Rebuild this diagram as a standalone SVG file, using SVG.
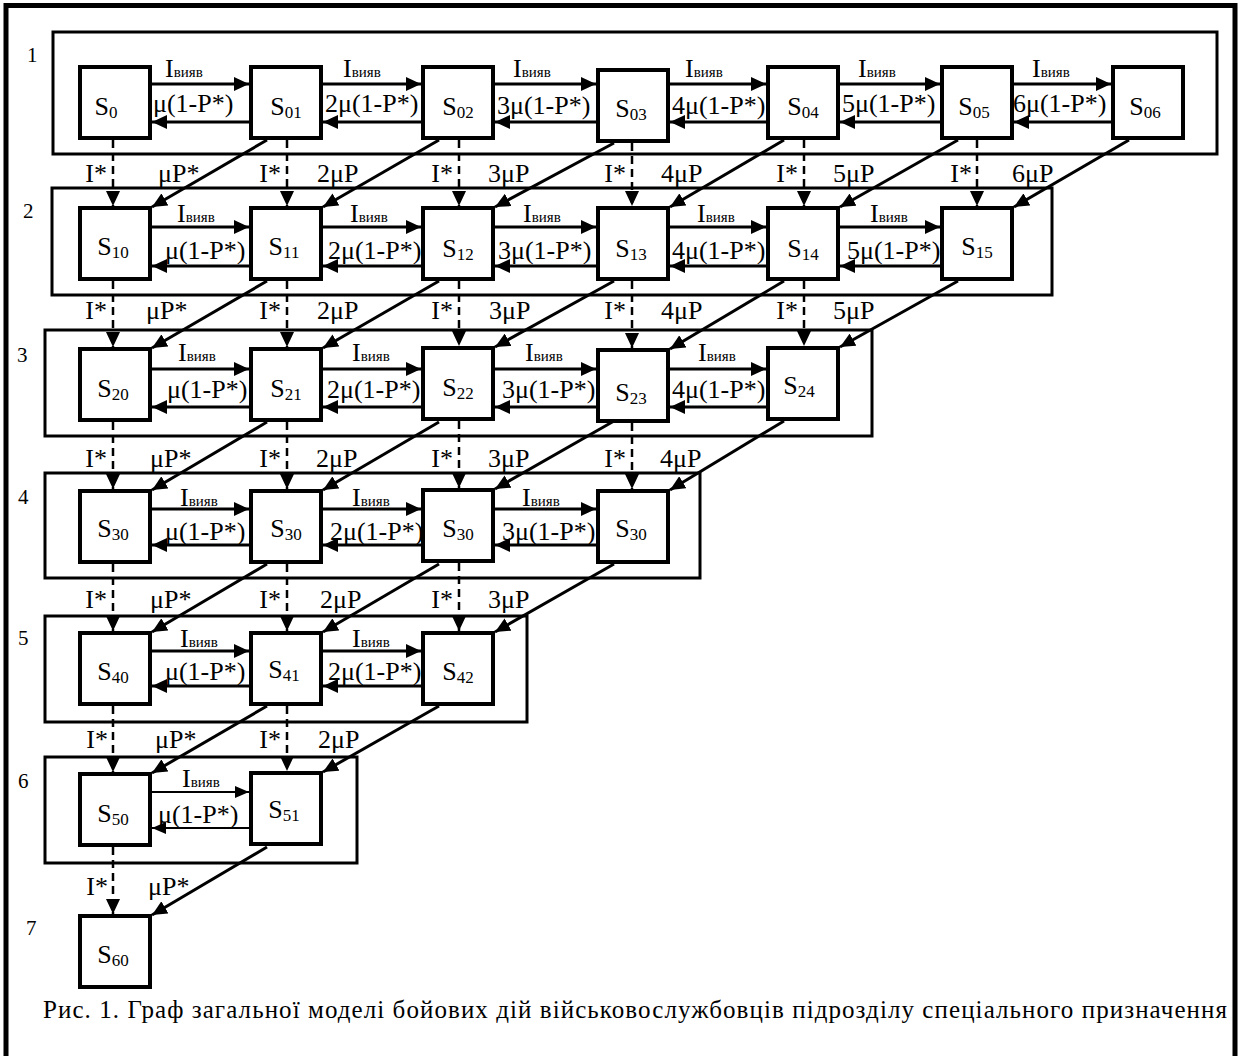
<svg xmlns="http://www.w3.org/2000/svg" width="1239" height="1056" viewBox="0 0 1239 1056">
<defs>
<style>
text{font-family:"Liberation Serif","Times New Roman",serif;fill:#000}
.frame{fill:#fff;stroke:#000;stroke-width:5}
.grp{fill:none;stroke:#000;stroke-width:3}
.node rect{fill:#fff;stroke:#000;stroke-width:4}
.s{font-size:26px}
.sub{font-size:17px}
.lbl{font-size:26px}
.vs{font-size:15px}
.num{font-size:21px}
.cap{font-size:25px}
.arr{stroke:#000;stroke-width:3;fill:none;marker-end:url(#ah)}
.thin{stroke:#000;stroke-width:2;fill:none;marker-end:url(#ahs)}
.dash{stroke:#000;stroke-width:2.5;stroke-dasharray:8 5;fill:none;marker-end:url(#ah)}
</style>
<marker id="ah" markerUnits="userSpaceOnUse" markerWidth="16" markerHeight="14" refX="15" refY="7" orient="auto"><path d="M0,0 L15,7 L0,14 z" fill="#000"/></marker>
<marker id="ahs" markerUnits="userSpaceOnUse" markerWidth="15" markerHeight="12" refX="14" refY="6" orient="auto"><path d="M0,0 L14,6 L0,12 z" fill="#000"/></marker>
</defs>
<rect class="frame" x="6" y="5.5" width="1229" height="1062"/>
<g id="row-boxes">
<rect class="grp" x="53" y="32" width="1164" height="122"/>
<rect class="grp" x="52" y="188" width="1000" height="107"/>
<rect class="grp" x="45" y="330" width="827" height="106"/>
<rect class="grp" x="45" y="473" width="655" height="105"/>
<rect class="grp" x="45" y="616" width="482" height="106"/>
<rect class="grp" x="45" y="757" width="312" height="106"/>
</g>
<g id="row-numbers">
<text class="num" x="27" y="62">1</text>
<text class="num" x="23" y="218">2</text>
<text class="num" x="17" y="362">3</text>
<text class="num" x="18" y="504">4</text>
<text class="num" x="18" y="645">5</text>
<text class="num" x="18" y="788">6</text>
<text class="num" x="26" y="935">7</text>
</g>
<g id="nodes">
<g id="S0" class="node"><rect x="80" y="67" width="70" height="71"/><text class="s" x="106" y="115" text-anchor="middle">S<tspan class="sub" dy="3">0</tspan></text></g>
<g id="S01" class="node"><rect x="251" y="67" width="70" height="71"/><text class="s" x="286" y="115" text-anchor="middle">S<tspan class="sub" dy="3">01</tspan></text></g>
<g id="S02" class="node"><rect x="423" y="67" width="70" height="71"/><text class="s" x="458" y="115" text-anchor="middle">S<tspan class="sub" dy="3">02</tspan></text></g>
<g id="S03" class="node"><rect x="598" y="70" width="70" height="71"/><text class="s" x="631" y="117" text-anchor="middle">S<tspan class="sub" dy="3">03</tspan></text></g>
<g id="S04" class="node"><rect x="768" y="67" width="70" height="71"/><text class="s" x="803" y="115" text-anchor="middle">S<tspan class="sub" dy="3">04</tspan></text></g>
<g id="S05" class="node"><rect x="942" y="67" width="70" height="71"/><text class="s" x="974" y="115" text-anchor="middle">S<tspan class="sub" dy="3">05</tspan></text></g>
<g id="S06" class="node"><rect x="1113" y="67" width="70" height="71"/><text class="s" x="1145" y="115" text-anchor="middle">S<tspan class="sub" dy="3">06</tspan></text></g>

<g id="S10" class="node"><rect x="80" y="208" width="70" height="71"/><text class="s" x="113" y="255" text-anchor="middle">S<tspan class="sub" dy="3">10</tspan></text></g>
<g id="S11" class="node"><rect x="251" y="208" width="70" height="71"/><text class="s" x="284" y="255" text-anchor="middle">S<tspan class="sub" dy="3">11</tspan></text></g>
<g id="S12" class="node"><rect x="423" y="208" width="70" height="71"/><text class="s" x="458" y="257" text-anchor="middle">S<tspan class="sub" dy="3">12</tspan></text></g>
<g id="S13" class="node"><rect x="598" y="208" width="70" height="71"/><text class="s" x="631" y="257" text-anchor="middle">S<tspan class="sub" dy="3">13</tspan></text></g>
<g id="S14" class="node"><rect x="768" y="208" width="70" height="71"/><text class="s" x="803" y="257" text-anchor="middle">S<tspan class="sub" dy="3">14</tspan></text></g>
<g id="S15" class="node"><rect x="942" y="208" width="70" height="71"/><text class="s" x="977" y="255" text-anchor="middle">S<tspan class="sub" dy="3">15</tspan></text></g>

<g id="S20" class="node"><rect x="80" y="349" width="70" height="71"/><text class="s" x="113" y="397" text-anchor="middle">S<tspan class="sub" dy="3">20</tspan></text></g>
<g id="S21" class="node"><rect x="251" y="349" width="70" height="71"/><text class="s" x="286" y="397" text-anchor="middle">S<tspan class="sub" dy="3">21</tspan></text></g>
<g id="S22" class="node"><rect x="423" y="348" width="70" height="71"/><text class="s" x="458" y="396" text-anchor="middle">S<tspan class="sub" dy="3">22</tspan></text></g>
<g id="S23" class="node"><rect x="598" y="350" width="70" height="71"/><text class="s" x="631" y="401" text-anchor="middle">S<tspan class="sub" dy="3">23</tspan></text></g>
<g id="S24" class="node"><rect x="768" y="348" width="70" height="71"/><text class="s" x="799" y="394" text-anchor="middle">S<tspan class="sub" dy="3">24</tspan></text></g>

<g id="S30a" class="node"><rect x="80" y="491" width="70" height="71"/><text class="s" x="113" y="537" text-anchor="middle">S<tspan class="sub" dy="3">30</tspan></text></g>
<g id="S30b" class="node"><rect x="251" y="491" width="70" height="71"/><text class="s" x="286" y="537" text-anchor="middle">S<tspan class="sub" dy="3">30</tspan></text></g>
<g id="S30c" class="node"><rect x="423" y="490" width="70" height="71"/><text class="s" x="458" y="537" text-anchor="middle">S<tspan class="sub" dy="3">30</tspan></text></g>
<g id="S30d" class="node"><rect x="598" y="491" width="70" height="71"/><text class="s" x="631" y="537" text-anchor="middle">S<tspan class="sub" dy="3">30</tspan></text></g>

<g id="S40" class="node"><rect x="80" y="633" width="70" height="71"/><text class="s" x="113" y="680" text-anchor="middle">S<tspan class="sub" dy="3">40</tspan></text></g>
<g id="S41" class="node"><rect x="251" y="633" width="70" height="71"/><text class="s" x="284" y="678" text-anchor="middle">S<tspan class="sub" dy="3">41</tspan></text></g>
<g id="S42" class="node"><rect x="423" y="633" width="70" height="71"/><text class="s" x="458" y="680" text-anchor="middle">S<tspan class="sub" dy="3">42</tspan></text></g>

<g id="S50" class="node"><rect x="80" y="774" width="70" height="71"/><text class="s" x="113" y="822" text-anchor="middle">S<tspan class="sub" dy="3">50</tspan></text></g>
<g id="S51" class="node"><rect x="251" y="773" width="70" height="71"/><text class="s" x="284" y="818" text-anchor="middle">S<tspan class="sub" dy="3">51</tspan></text></g>

<g id="S60" class="node"><rect x="80" y="916" width="70" height="71"/><text class="s" x="113" y="963" text-anchor="middle">S<tspan class="sub" dy="3">60</tspan></text></g>
</g>
<g id="connectors">
<!-- row 1 horizontal -->
<line class="arr" x1="152" y1="84" x2="249" y2="84"/><line class="arr" x1="249" y1="122" x2="152" y2="122"/>
<line class="arr" x1="323" y1="84" x2="421" y2="84"/><line class="arr" x1="421" y1="122" x2="323" y2="122"/>
<line class="arr" x1="495" y1="84" x2="596" y2="84"/><line class="arr" x1="596" y1="122" x2="495" y2="122"/>
<line class="arr" x1="670" y1="84" x2="766" y2="84"/><line class="arr" x1="766" y1="122" x2="670" y2="122"/>
<line class="arr" x1="840" y1="84" x2="940" y2="84"/><line class="arr" x1="940" y1="122" x2="840" y2="122"/>
<line class="arr" x1="1014" y1="84" x2="1111" y2="84"/><line class="arr" x1="1111" y1="122" x2="1014" y2="122"/>
<!-- row 2 horizontal -->
<line class="arr" x1="152" y1="227" x2="249" y2="227"/><line class="arr" x1="249" y1="266" x2="152" y2="266"/>
<line class="arr" x1="323" y1="227" x2="421" y2="227"/><line class="arr" x1="421" y1="266" x2="323" y2="266"/>
<line class="arr" x1="495" y1="227" x2="596" y2="227"/><line class="arr" x1="596" y1="266" x2="495" y2="266"/>
<line class="arr" x1="670" y1="227" x2="766" y2="227"/><line class="arr" x1="766" y1="266" x2="670" y2="266"/>
<line class="arr" x1="840" y1="227" x2="940" y2="227"/><line class="arr" x1="940" y1="266" x2="840" y2="266"/>
<!-- row 3 horizontal -->
<line class="arr" x1="152" y1="369" x2="249" y2="369"/><line class="arr" x1="249" y1="407" x2="152" y2="407"/>
<line class="arr" x1="323" y1="369" x2="421" y2="369"/><line class="arr" x1="421" y1="407" x2="323" y2="407"/>
<line class="arr" x1="495" y1="369" x2="596" y2="369"/><line class="arr" x1="596" y1="407" x2="495" y2="407"/>
<line class="arr" x1="670" y1="369" x2="766" y2="369"/><line class="arr" x1="766" y1="407" x2="670" y2="407"/>
<!-- row 4 horizontal -->
<line class="arr" x1="152" y1="509" x2="249" y2="509"/><line class="arr" x1="249" y1="545" x2="152" y2="545"/>
<line class="arr" x1="323" y1="509" x2="421" y2="509"/><line class="arr" x1="421" y1="545" x2="323" y2="545"/>
<line class="arr" x1="495" y1="509" x2="596" y2="509"/><line class="arr" x1="596" y1="545" x2="495" y2="545"/>
<!-- row 5 horizontal -->
<line class="arr" x1="152" y1="651" x2="249" y2="651"/><line class="arr" x1="249" y1="686" x2="152" y2="686"/>
<line class="arr" x1="323" y1="651" x2="421" y2="651"/><line class="arr" x1="421" y1="686" x2="323" y2="686"/>
<!-- row 6 horizontal -->
<line class="thin" x1="152" y1="792" x2="249" y2="792"/><line class="thin" x1="249" y1="828" x2="152" y2="828"/>

<!-- vertical dashed -->
<line class="dash" x1="113" y1="140" x2="113" y2="206"/>
<line class="dash" x1="287" y1="140" x2="287" y2="206"/>
<line class="dash" x1="459" y1="140" x2="459" y2="206"/>
<line class="dash" x1="632" y1="143" x2="632" y2="206"/>
<line class="dash" x1="804" y1="140" x2="804" y2="206"/>
<line class="dash" x1="977" y1="140" x2="977" y2="206"/>
<line class="dash" x1="113" y1="281" x2="113" y2="347"/>
<line class="dash" x1="287" y1="281" x2="287" y2="347"/>
<line class="dash" x1="459" y1="281" x2="459" y2="346"/>
<line class="dash" x1="632" y1="281" x2="632" y2="348"/>
<line class="dash" x1="804" y1="281" x2="804" y2="346"/>
<line class="dash" x1="113" y1="422" x2="113" y2="489"/>
<line class="dash" x1="287" y1="422" x2="287" y2="489"/>
<line class="dash" x1="459" y1="421" x2="459" y2="488"/>
<line class="dash" x1="632" y1="423" x2="632" y2="489"/>
<line class="dash" x1="113" y1="564" x2="113" y2="631"/>
<line class="dash" x1="287" y1="564" x2="287" y2="631"/>
<line class="dash" x1="459" y1="563" x2="459" y2="631"/>
<line class="dash" x1="113" y1="706" x2="113" y2="772"/>
<line class="dash" x1="287" y1="706" x2="287" y2="771"/>
<line class="dash" x1="113" y1="847" x2="113" y2="914"/>

<!-- diagonals -->
<line class="arr" x1="267" y1="140" x2="152" y2="207"/>
<line class="arr" x1="439" y1="140" x2="323" y2="207"/>
<line class="arr" x1="614" y1="143" x2="495" y2="207"/>
<line class="arr" x1="784" y1="140" x2="670" y2="207"/>
<line class="arr" x1="958" y1="140" x2="840" y2="207"/>
<line class="arr" x1="1129" y1="140" x2="1014" y2="207"/>
<line class="arr" x1="267" y1="281" x2="152" y2="348"/>
<line class="arr" x1="439" y1="281" x2="323" y2="348"/>
<line class="arr" x1="614" y1="281" x2="495" y2="347"/>
<line class="arr" x1="784" y1="281" x2="670" y2="349"/>
<line class="arr" x1="958" y1="281" x2="840" y2="347"/>
<line class="arr" x1="267" y1="422" x2="152" y2="490"/>
<line class="arr" x1="439" y1="422" x2="323" y2="490"/>
<line class="arr" x1="614" y1="421" x2="495" y2="489"/>
<line class="arr" x1="784" y1="421" x2="670" y2="490"/>
<line class="arr" x1="267" y1="564" x2="152" y2="632"/>
<line class="arr" x1="439" y1="564" x2="323" y2="632"/>
<line class="arr" x1="614" y1="564" x2="495" y2="632"/>
<line class="arr" x1="267" y1="706" x2="152" y2="773"/>
<line class="arr" x1="439" y1="706" x2="323" y2="772"/>
<line class="arr" x1="267" y1="847" x2="152" y2="915"/>

<g class="lbl">
<!-- row 1 -->
<text x="165" y="77">I<tspan class="vs">вияв</tspan></text>
<text x="343" y="77">I<tspan class="vs">вияв</tspan></text>
<text x="513" y="77">I<tspan class="vs">вияв</tspan></text>
<text x="685" y="77">I<tspan class="vs">вияв</tspan></text>
<text x="858" y="77">I<tspan class="vs">вияв</tspan></text>
<text x="1032" y="77">I<tspan class="vs">вияв</tspan></text>
<text x="153" y="112">μ(1-P*)</text>
<text x="325" y="112">2μ(1-P*)</text>
<text x="497" y="114">3μ(1-P*)</text>
<text x="672" y="114">4μ(1-P*)</text>
<text x="842" y="112">5μ(1-P*)</text>
<text x="1013" y="112">6μ(1-P*)</text>
<!-- row 2 -->
<text x="177" y="222">I<tspan class="vs">вияв</tspan></text>
<text x="350" y="222">I<tspan class="vs">вияв</tspan></text>
<text x="523" y="222">I<tspan class="vs">вияв</tspan></text>
<text x="697" y="222">I<tspan class="vs">вияв</tspan></text>
<text x="870" y="222">I<tspan class="vs">вияв</tspan></text>
<text x="165" y="259">μ(1-P*)</text>
<text x="328" y="259">2μ(1-P*)</text>
<text x="498" y="259">3μ(1-P*)</text>
<text x="672" y="259">4μ(1-P*)</text>
<text x="847" y="259">5μ(1-P*)</text>
<!-- row 3 -->
<text x="178" y="361">I<tspan class="vs">вияв</tspan></text>
<text x="352" y="361">I<tspan class="vs">вияв</tspan></text>
<text x="525" y="361">I<tspan class="vs">вияв</tspan></text>
<text x="698" y="361">I<tspan class="vs">вияв</tspan></text>
<text x="167" y="398">μ(1-P*)</text>
<text x="327" y="398">2μ(1-P*)</text>
<text x="502" y="398">3μ(1-P*)</text>
<text x="672" y="398">4μ(1-P*)</text>
<!-- row 4 -->
<text x="180" y="506">I<tspan class="vs">вияв</tspan></text>
<text x="352" y="506">I<tspan class="vs">вияв</tspan></text>
<text x="522" y="506">I<tspan class="vs">вияв</tspan></text>
<text x="165" y="540">μ(1-P*)</text>
<text x="330" y="540">2μ(1-P*)</text>
<text x="502" y="540">3μ(1-P*)</text>
<!-- row 5 -->
<text x="180" y="647">I<tspan class="vs">вияв</tspan></text>
<text x="352" y="647">I<tspan class="vs">вияв</tspan></text>
<text x="165" y="680">μ(1-P*)</text>
<text x="328" y="680">2μ(1-P*)</text>
<!-- row 6 -->
<text x="182" y="787">I<tspan class="vs">вияв</tspan></text>
<text x="158" y="823">μ(1-P*)</text>

<!-- vertical / diagonal labels -->
<text x="107" y="182" text-anchor="end">I*</text>
<text x="281" y="182" text-anchor="end">I*</text>
<text x="453" y="182" text-anchor="end">I*</text>
<text x="626" y="182" text-anchor="end">I*</text>
<text x="798" y="182" text-anchor="end">I*</text>
<text x="972" y="182" text-anchor="end">I*</text>
<text x="158" y="182">μP*</text>
<text x="317" y="182">2μP</text>
<text x="488" y="182">3μP</text>
<text x="661" y="182">4μP</text>
<text x="833" y="182">5μP</text>
<text x="1012" y="182">6μP</text>

<text x="107" y="319" text-anchor="end">I*</text>
<text x="281" y="319" text-anchor="end">I*</text>
<text x="453" y="319" text-anchor="end">I*</text>
<text x="626" y="319" text-anchor="end">I*</text>
<text x="798" y="319" text-anchor="end">I*</text>
<text x="146" y="319">μP*</text>
<text x="317" y="319">2μP</text>
<text x="489" y="319">3μP</text>
<text x="661" y="319">4μP</text>
<text x="833" y="319">5μP</text>

<text x="107" y="467" text-anchor="end">I*</text>
<text x="281" y="467" text-anchor="end">I*</text>
<text x="453" y="467" text-anchor="end">I*</text>
<text x="626" y="467" text-anchor="end">I*</text>
<text x="150" y="467">μP*</text>
<text x="316" y="467">2μP</text>
<text x="488" y="467">3μP</text>
<text x="660" y="467">4μP</text>

<text x="107" y="608" text-anchor="end">I*</text>
<text x="281" y="608" text-anchor="end">I*</text>
<text x="453" y="608" text-anchor="end">I*</text>
<text x="150" y="608">μP*</text>
<text x="320" y="608">2μP</text>
<text x="488" y="608">3μP</text>

<text x="108" y="748" text-anchor="end">I*</text>
<text x="281" y="748" text-anchor="end">I*</text>
<text x="155" y="748">μP*</text>
<text x="318" y="748">2μP</text>

<text x="108" y="895" text-anchor="end">I*</text>
<text x="148" y="895">μP*</text>
</g>
</g>
<text class="cap" x="43" y="1018" textLength="1184" lengthAdjust="spacing">Рис. 1. Граф загальної моделі бойових дій військовослужбовців підрозділу спеціального призначення</text>
</svg>
